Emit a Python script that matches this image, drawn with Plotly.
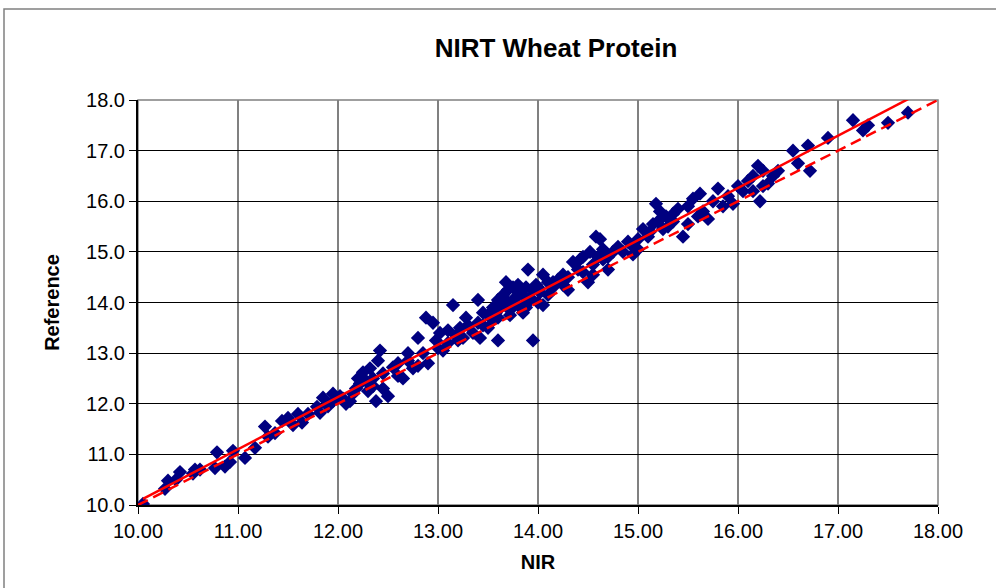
import plotly.graph_objects as go
import numpy as np

# Lecturas del grafico (NIR vs. referencia), estimadas de la imagen
nir = [
    10.05, 10.27, 10.30, 10.38, 10.42, 10.55, 10.57, 10.62, 10.77, 10.79,
    10.87, 10.92, 10.95, 11.07, 11.17, 11.27, 11.30, 11.37, 11.44, 11.50,
    11.55, 11.60, 11.64, 11.70, 11.79, 11.82, 11.85, 11.90, 11.95, 11.95,
    12.02, 12.05, 12.08, 12.12, 12.15, 12.18, 12.20, 12.22, 12.25, 12.28,
    12.30, 12.32, 12.35, 12.35, 12.38, 12.40, 12.42, 12.45, 12.45, 12.50,
    12.55, 12.60, 12.60, 12.65, 12.70, 12.70, 12.75, 12.80, 12.80, 12.85,
    12.88, 12.90, 12.95, 12.98, 13.00, 13.02, 13.05, 13.10, 13.10, 13.15,
    13.18, 13.20, 13.22, 13.25, 13.28, 13.30, 13.35, 13.40, 13.40, 13.42,
    13.45, 13.45, 13.50, 13.50, 13.55, 13.55, 13.58, 13.60, 13.60, 13.60,
    13.62, 13.65, 13.65, 13.68, 13.70, 13.70, 13.72, 13.72, 13.75, 13.75,
    13.78, 13.80, 13.80, 13.82, 13.85, 13.85, 13.88, 13.88, 13.90, 13.90,
    13.92, 13.95, 13.95, 13.98, 14.00, 14.00, 14.02, 14.05, 14.05, 14.10,
    14.10, 14.15, 14.15, 14.20, 14.25, 14.25, 14.30, 14.30, 14.35, 14.40,
    14.42, 14.45, 14.45, 14.50, 14.52, 14.55, 14.55, 14.58, 14.60, 14.62,
    14.65, 14.65, 14.70, 14.70, 14.75, 14.80, 14.85, 14.90, 14.95, 14.95,
    15.00, 15.00, 15.05, 15.10, 15.12, 15.15, 15.18, 15.20, 15.22, 15.25,
    15.28, 15.30, 15.35, 15.35, 15.40, 15.45, 15.50, 15.50, 15.55, 15.60,
    15.62, 15.65, 15.70, 15.75, 15.80, 15.85, 15.90, 15.95, 16.00, 16.05,
    16.10, 16.15, 16.15, 16.20, 16.22, 16.25, 16.25, 16.30, 16.35, 16.40,
    16.55, 16.60, 16.70, 16.72, 16.90, 17.15, 17.25, 17.30, 17.50, 17.70,
]
referencia = [
    10.02, 10.32, 10.48, 10.50, 10.65, 10.62, 10.70, 10.70, 10.73, 11.04,
    10.76, 10.85, 11.07, 10.93, 11.13, 11.55, 11.35, 11.42, 11.66, 11.72,
    11.58, 11.80, 11.63, 11.80, 11.94, 11.82, 12.12, 11.95, 12.05, 12.20,
    12.15, 12.10, 12.00, 12.05, 12.20, 12.30, 12.50, 12.40, 12.62, 12.45,
    12.25, 12.70, 12.50, 12.35, 12.05, 12.85, 13.05, 12.60, 12.30, 12.15,
    12.72, 12.55, 12.80, 12.50, 12.85, 13.00, 12.70, 13.30, 12.75, 13.00,
    13.70, 12.80, 13.60, 13.25, 13.10, 13.40, 13.05, 13.20, 13.45, 13.95,
    13.35, 13.25, 13.50, 13.30, 13.70, 13.55, 13.40, 14.05, 13.60, 13.30,
    13.55, 13.80, 13.50, 13.75, 13.65, 13.90, 13.80, 13.25, 14.05, 13.70,
    13.90, 14.15, 13.95, 14.40, 14.00, 14.25, 13.85, 13.75, 14.30, 14.05,
    14.10, 13.95, 14.35, 14.20, 13.80, 14.15, 14.30, 13.90, 14.65, 14.00,
    14.10, 13.25, 14.25, 14.35, 14.00, 14.30, 14.20, 13.95, 14.55, 14.40,
    14.15, 14.30, 14.40, 14.45, 14.35, 14.55, 14.50, 14.25, 14.80, 14.65,
    14.85, 14.60, 14.90, 14.40, 15.00, 14.75, 14.55, 15.30, 14.90, 15.25,
    14.85, 15.05, 14.65, 14.90, 15.00, 15.10, 15.00, 15.20, 15.10, 14.95,
    15.05, 15.25, 15.45, 15.30, 15.40, 15.55, 15.95, 15.60, 15.80, 15.45,
    15.70, 15.50, 15.60, 15.75, 15.85, 15.30, 15.90, 15.55, 16.05, 15.70,
    16.15, 15.80, 15.65, 16.00, 16.25, 15.90, 16.10, 15.95, 16.30, 16.20,
    16.40, 16.50, 16.20, 16.70, 16.00, 16.60, 16.30, 16.35, 16.50, 16.60,
    17.00, 16.75, 17.10, 16.60, 17.25, 17.60, 17.40, 17.50, 17.55, 17.75,
]

pendiente = 1.032
intercepto = -0.25
linea_1a1 = [10.0, 18.0]

x_ticks = [10, 11, 12, 13, 14, 15, 16, 17, 18]
y_ticks = [10, 11, 12, 13, 14, 15, 16, 17, 18]

fuente = 'Arial, Liberation Sans, sans-serif'

fig = go.Figure()

fig.add_trace(go.Scatter(
    x=nir,
    y=referencia,
    mode='markers',
    marker=dict(symbol='diamond', size=11, color='#000080',
                line=dict(width=0)),
    showlegend=False,
    hovertemplate='NIR: %{x:.2f}<br>Reference: %{y:.1f}<extra></extra>'
))

x_tend = np.array([min(nir), max(nir)])
fig.add_trace(go.Scatter(
    x=x_tend,
    y=pendiente * x_tend + intercepto,
    mode='lines',
    line=dict(color='#FF0000', width=2.5),
    showlegend=False,
    hoverinfo='skip'
))

fig.add_trace(go.Scatter(
    x=linea_1a1,
    y=linea_1a1,
    mode='lines',
    line=dict(color='#FF0000', width=2.5, dash='11px,6px'),
    showlegend=False,
    hoverinfo='skip'
))

# Borde del area del grafico (estilo Excel)
fig.add_shape(type='rect', xref='paper', yref='paper',
              x0=-0.1675, x1=1.08, y0=-0.22, y1=1.2247,
              line=dict(color='#808080', width=1.5), layer='below')
# Borde del area de trazado
fig.add_shape(type='rect', xref='paper', yref='paper',
              x0=0, x1=1, y0=0, y1=1,
              line=dict(color='#808080', width=1.5), layer='below')

fig.update_layout(
    width=996,
    height=588,
    paper_bgcolor='white',
    plot_bgcolor='white',
    font=dict(family=fuente, size=20, color='#000000'),
    title=dict(
        text='<b>NIRT Wheat Protein</b>',
        x=556 / 996, xref='container', xanchor='center',
        y=1 - 48 / 588, yanchor='middle',
        font=dict(family=fuente, size=26, color='#000000')
    ),
    xaxis=dict(
        title=dict(text='<b>NIR</b>', standoff=14,
                   font=dict(family=fuente, size=20)),
        range=[10, 18],
        tickvals=x_ticks,
        tickformat='.2f',
        ticks='outside', ticklen=7, tickcolor='#000000',
        showgrid=True, gridcolor='#808080', gridwidth=1.5,
        showline=True, linecolor='#000000', linewidth=2,
        zeroline=False,
        tickfont=dict(family=fuente, size=20)
    ),
    yaxis=dict(
        title=dict(text='<b>Reference</b>', standoff=21,
                   font=dict(family=fuente, size=20)),
        range=[10, 18],
        tickvals=y_ticks,
        tickformat='.1f',
        ticks='outside', ticklen=7, tickcolor='#000000',
        showgrid=True, gridcolor='#000000', gridwidth=1,
        showline=True, linecolor='#000000', linewidth=2,
        zeroline=False,
        tickfont=dict(family=fuente, size=20)
    ),
    margin=dict(l=138, r=58, t=100, b=83),
    hovermode='closest'
)

# Quitar el margen por defecto del body para que la figura empiece en (0, 0)
fig.write_html("out.html", config={'displayModeBar': False},
               post_script="document.body.style.margin = '0';")
